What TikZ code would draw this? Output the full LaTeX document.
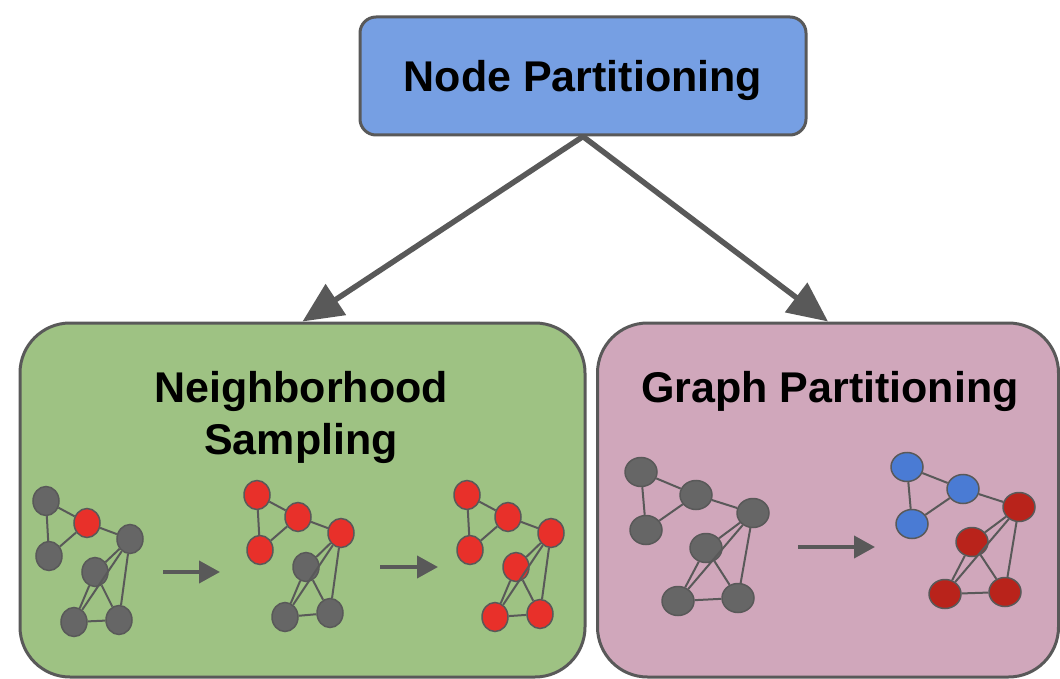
\documentclass[tikz,border=0pt]{standalone}
\usepackage{fontspec}
\setmainfont{Liberation Sans}
\usepackage{tikz}
\usetikzlibrary{arrows.meta,shapes.geometric}

\definecolor{linegray}{HTML}{595959}
\definecolor{vtxgray}{HTML}{666666}
\definecolor{topblue}{HTML}{769FE3}
\definecolor{boxgreen}{HTML}{9EC283}
\definecolor{boxpink}{HTML}{D0A7BB}
\definecolor{vtxred}{HTML}{E8302A}
\definecolor{vtxdark}{HTML}{B9231B}
\definecolor{vtxblue}{HTML}{4A7BD4}

\begin{document}
\begin{tikzpicture}[x=1pt,y=-1pt,
  box/.style={draw=linegray,line width=3pt,inner sep=0pt},
  title/.style={font=\fontsize{43}{52}\selectfont\bfseries,align=center},
  v/.style={draw=linegray,ellipse,line width=1.5pt,inner sep=0pt,minimum width=26pt,minimum height=29pt,fill=vtxgray},
  w/.style={v,minimum width=32pt,minimum height=29pt},
  edge/.style={draw=linegray,line width=2pt},
  bigarrow/.style={draw=linegray,line width=5.5pt,-{Triangle[length=40pt,width=36pt]}},
  smallarrow/.style={draw=linegray,line width=4pt,-{Triangle[length=21pt,width=22pt]}}]
  \useasboundingbox (0,0) rectangle (1060,679);

  % boxes
  \node (top) at (583,76) [box,fill=topblue,rounded corners=16pt,minimum width=446pt,minimum height=118pt] {};
  \node at (583,80) [title] {Node Partitioning};
  \node (ns) at (302.5,500) [box,fill=boxgreen,rounded corners=50pt,minimum width=565pt,minimum height=354pt] {};
  \node at (301,417) [title] {Neighborhood\\Sampling};
  \node (gp) at (828,500) [box,fill=boxpink,rounded corners=50pt,minimum width=461pt,minimum height=354pt] {};
  \node at (830,391) [title] {Graph Partitioning};
  \draw[bigarrow] (top.south) to (ns.north);
  \draw[bigarrow] (top.south) to (gp.north);

  % sampling, step 1
  \node (a1) at (46,501) [v] {};
  \node (b1) at (87,523) [v,fill=vtxred] {};
  \node (c1) at (49,556) [v] {};
  \node (d1) at (130,539) [v] {};
  \node (e1) at (95,572) [v] {};
  \node (f1) at (74,622) [v] {};
  \node (g1) at (119,620) [v] {};
  \draw[edge] (c1) to (a1) to (b1) to (c1);
  \draw[edge] (b1) to (d1) to (e1) to (f1) to (d1) to (g1) to (e1);
  \draw[edge] (f1) to (g1);

  \coordinate (s1) at (163,572);
  \coordinate (t1) at (220,572);
  \draw[smallarrow] (s1) to (t1);

  % sampling, step 2
  \node (a2) at (257,495) [v,fill=vtxred] {};
  \node (b2) at (298,517) [v,fill=vtxred] {};
  \node (c2) at (260,550) [v,fill=vtxred] {};
  \node (d2) at (341,533) [v,fill=vtxred] {};
  \node (e2) at (306,567) [v] {};
  \node (f2) at (285,617) [v] {};
  \node (g2) at (330,613) [v] {};
  \draw[edge] (c2) to (a2) to (b2) to (c2);
  \draw[edge] (b2) to (d2) to (e2) to (f2) to (d2) to (g2) to (e2);
  \draw[edge] (f2) to (g2);

  \coordinate (s2) at (380,567);
  \coordinate (t2) at (438,567);
  \draw[smallarrow] (s2) to (t2);

  % sampling, step 3
  \node (a3) at (467,495) [v,fill=vtxred] {};
  \node (b3) at (508,517) [v,fill=vtxred] {};
  \node (c3) at (470,550) [v,fill=vtxred] {};
  \node (d3) at (551,533) [v,fill=vtxred] {};
  \node (e3) at (516,567) [v,fill=vtxred] {};
  \node (f3) at (495,617) [v,fill=vtxred] {};
  \node (g3) at (540,614) [v,fill=vtxred] {};
  \draw[edge] (c3) to (a3) to (b3) to (c3);
  \draw[edge] (b3) to (d3) to (e3) to (f3) to (d3) to (g3) to (e3);
  \draw[edge] (f3) to (g3);

  % partitioning, before
  \node (a4) at (641,472) [w] {};
  \node (b4) at (696,495) [w] {};
  \node (c4) at (646,530) [w] {};
  \node (d4) at (753,513) [w] {};
  \node (e4) at (706,548) [w] {};
  \node (f4) at (678,601) [w] {};
  \node (g4) at (738,598) [w] {};
  \draw[edge] (c4) to (a4) to (b4) to (c4);
  \draw[edge] (b4) to (d4) to (e4) to (f4) to (d4) to (g4) to (e4);
  \draw[edge] (f4) to (g4);

  \coordinate (s4) at (798,547);
  \coordinate (t4) at (875,547);
  \draw[smallarrow] (s4) to (t4);

  % partitioning, after
  \node (a5) at (907,467) [w,fill=vtxblue] {};
  \node (b5) at (963,489) [w,fill=vtxblue] {};
  \node (c5) at (912,524) [w,fill=vtxblue] {};
  \node (d5) at (1019,507) [w,fill=vtxdark] {};
  \node (e5) at (972,542) [w,fill=vtxdark] {};
  \node (f5) at (945,594) [w,fill=vtxdark] {};
  \node (g5) at (1005,592) [w,fill=vtxdark] {};
  \draw[edge] (c5) to (a5) to (b5) to (c5);
  \draw[edge] (b5) to (d5) to (e5) to (f5) to (d5) to (g5) to (e5);
  \draw[edge] (f5) to (g5);
\end{tikzpicture}
\end{document}
